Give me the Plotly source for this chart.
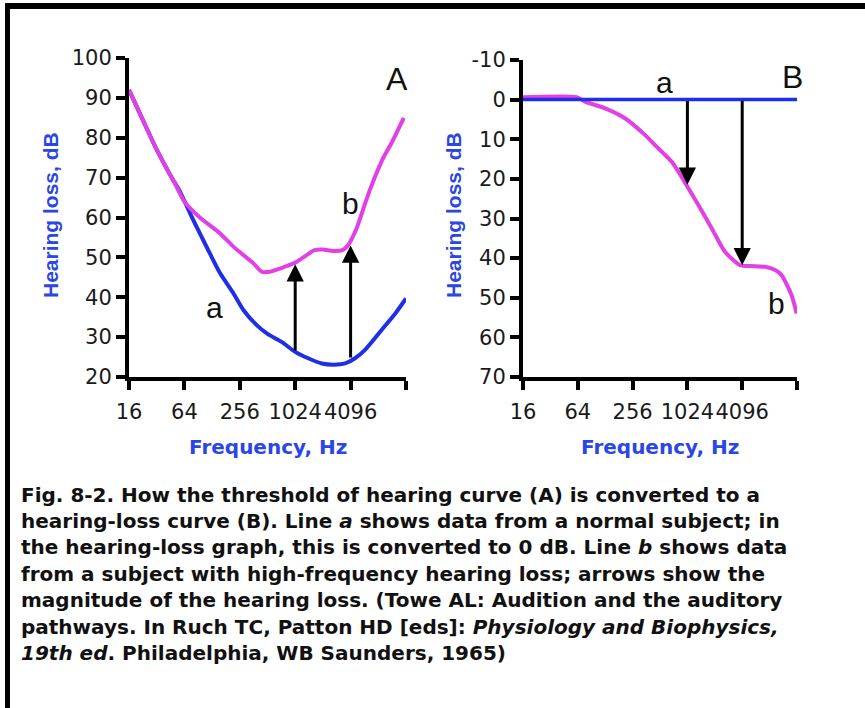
import math
import plotly.graph_objects as go

# ---------------- data ----------------
# Panel A: threshold of hearing (dB) vs frequency (Hz)
a_left_freq = [16, 22.6, 32, 45.3, 57.3, 76.7, 94.3, 121, 156.5, 218, 280, 391, 512, 729,
               1024, 1418, 1992, 2702, 3565, 4577, 5872, 8900, 12417, 16384]
a_left_db = [92, 84.5, 77, 70.5, 66.5, 60.2, 56, 51, 46, 41, 36.8, 33, 30.8, 28.8,
             26.3, 24.7, 23.4, 23.1, 23.4, 24.7, 26.8, 31.8, 35.8, 39.7]

b_left_freq = [16, 22.6, 32, 45.3, 50.6, 64, 94.3, 156.5, 218, 359.6, 442.6, 544.9, 699,
               1024, 1351, 1663, 2048, 2628, 3327, 3822, 4705, 5595, 6654, 9032, 11585, 15500]
b_left_db = [92, 84.5, 77, 70.5, 68.5, 64, 60, 56, 52.7, 48.5, 46.4, 46.4, 47.2,
             48.7, 50.5, 51.8, 52, 51.6, 51.8, 53, 57, 62, 67, 74.4, 79, 85]

# Panel B: hearing loss (dB) vs frequency (Hz)
a_right_freq = [16, 16384]
a_right_db = [0, 0]

b_right_freq = [16, 62.3, 76.7, 128, 210.8, 349.6, 451.8, 689.6, 1003, 1351, 1898, 2647,
                3875, 5042, 7279, 9410, 11110, 14263, 16271]
b_right_db = [-0.6, -0.6, 0.5, 2.2, 4.7, 8.9, 11.5, 15.7, 21.6, 26.6, 32.5, 38.4,
              41.8, 42, 42.2, 43, 44.3, 49.3, 54]

# Arrows: frequency, start dB, end dB
arrow_freq = [1024, 4096]
arrow_left_start = [26.3, 24.5]
arrow_left_end = [48.3, 53.0]
arrow_right_start = [0, 0]
arrow_right_end = [21.5, 41.8]

x_tickvals = [16, 64, 256, 1024, 4096, 16384]
x_ticktext = ["16", "64", "256", "1024", "4096", ""]
y_left_ticks = [20, 30, 40, 50, 60, 70, 80, 90, 100]
y_right_ticks = [-10, 0, 10, 20, 30, 40, 50, 60, 70]
y_right_text = ["-10", "0", "10", "20", "30", "40", "50", "60", "70"]

caption_lines = [
    "Fig. 8-2. How the threshold of hearing curve (A) is converted to a",
    "hearing-loss curve (B). Line <i>a</i> shows data from a normal subject; in",
    "the hearing-loss graph, this is converted to 0 dB. Line <i>b</i> shows data",
    "from a subject with high-frequency hearing loss; arrows show the",
    "magnitude of the hearing loss. (Towe AL: Audition and the auditory",
    "pathways. In Ruch TC, Patton HD [eds]: <i>Physiology and Biophysics,</i>",
    "<i>19th ed</i>. Philadelphia, WB Saunders, 1965)",
]

# ---------------- style ----------------
W, H = 865, 708
BLUE = "#1f2fe6"
MAGENTA = "#e33fe6"
BLUE_TEXT = "#2a46e4"
TICK_FONT = dict(family="DejaVu Sans", size=21, color="#1a1a1a")
TITLE_FONT = dict(family="Liberation Sans, Arial", size=21, color=BLUE_TEXT)
XTITLE_FONT = dict(family="DejaVu Sans", size=20, color=BLUE_TEXT)
LABEL_FONT = dict(family="Liberation Sans, Arial", size=30, color="#111111")
BIG_FONT = dict(family="Liberation Sans, Arial", size=32, color="#111111")


def px(x):
    return x / W


def py(y):
    return 1 - y / H


fig = go.Figure()

# Panel A
fig.add_trace(go.Scatter(x=a_left_freq, y=a_left_db, mode="lines", xaxis="x", yaxis="y",
                         line=dict(color=BLUE, width=4, shape="spline", smoothing=0.6),
                         hoverinfo="skip"))
fig.add_trace(go.Scatter(x=b_left_freq, y=b_left_db, mode="lines", xaxis="x", yaxis="y",
                         line=dict(color=MAGENTA, width=4, shape="spline", smoothing=0.6),
                         hoverinfo="skip"))
# Panel B
fig.add_trace(go.Scatter(x=b_right_freq, y=b_right_db, mode="lines", xaxis="x2", yaxis="y2",
                         line=dict(color=MAGENTA, width=4, shape="spline", smoothing=0.6),
                         hoverinfo="skip"))
fig.add_trace(go.Scatter(x=a_right_freq, y=a_right_db, mode="lines", xaxis="x2", yaxis="y2",
                         line=dict(color=BLUE, width=3.5), hoverinfo="skip"))

axis_common = dict(showline=True, linecolor="black", linewidth=4, ticks="outside",
                   ticklen=9, tickwidth=4, tickcolor="black", showgrid=False,
                   zeroline=False, tickfont=TICK_FONT, fixedrange=True, automargin=False,
                   tickangle=0)

lo, hi = math.log10(x_tickvals[0]), math.log10(x_tickvals[-1])

fig.update_layout(
    width=W, height=H,
    autosize=False,
    margin=dict(l=0, r=0, t=0, b=0, pad=0, autoexpand=False),
    paper_bgcolor="white", plot_bgcolor="white",
    showlegend=False,
    xaxis=dict(type="log", range=[lo, hi], domain=[px(129), px(406)], anchor="y",
               tickvals=x_tickvals, ticktext=x_ticktext, ticklabelstandoff=4, **axis_common),
    yaxis=dict(range=[20, 100], domain=[py(377), py(58)], anchor="x",
               tickvals=y_left_ticks, **axis_common),
    xaxis2=dict(type="log", range=[lo, hi], domain=[px(523), px(797)], anchor="y2",
                tickvals=x_tickvals, ticktext=x_ticktext, ticklabelstandoff=4, **axis_common),
    yaxis2=dict(range=[70, -10], domain=[py(377), py(60)], anchor="x2",
                tickvals=y_right_ticks, ticktext=y_right_text, **axis_common),
)

ann = []
# arrows
for f, s, e in zip(arrow_freq, arrow_left_start, arrow_left_end):
    ann.append(dict(x=math.log10(f), y=e, ax=math.log10(f), ay=s, xref="x", yref="y",
                    axref="x", ayref="y", showarrow=True, arrowhead=2, arrowsize=1.15,
                    arrowwidth=3, arrowcolor="black", text=""))
for f, s, e in zip(arrow_freq, arrow_right_start, arrow_right_end):
    ann.append(dict(x=math.log10(f), y=e, ax=math.log10(f), ay=s, xref="x2", yref="y2",
                    axref="x2", ayref="y2", showarrow=True, arrowhead=2, arrowsize=1.15,
                    arrowwidth=3, arrowcolor="black", text=""))

# curve / panel labels
ann += [
    dict(x=math.log10(13100), y=94.7, xref="x", yref="y", text="A", showarrow=False, font=BIG_FONT),
    dict(x=math.log10(137), y=37.5, xref="x", yref="y", text="a", showarrow=False, font=LABEL_FONT),
    dict(x=math.log10(4050), y=63.6, xref="x", yref="y", text="b", showarrow=False, font=LABEL_FONT),
    dict(x=math.log10(14800), y=-5.7, xref="x2", yref="y2", text="B", showarrow=False, font=BIG_FONT),
    dict(x=math.log10(580), y=-4.4, xref="x2", yref="y2", text="a", showarrow=False, font=LABEL_FONT),
    dict(x=math.log10(9850), y=51.4, xref="x2", yref="y2", text="b", showarrow=False, font=LABEL_FONT),
]

# axis titles
for cx in (267.5, 660):
    ann.append(dict(x=px(cx), y=py(447), xref="paper", yref="paper", text="<b>Frequency, Hz</b>",
                    showarrow=False, font=XTITLE_FONT, xanchor="center", yanchor="middle"))
for cx in (50, 453):
    ann.append(dict(x=px(cx), y=py(215), xref="paper", yref="paper", text="<b>Hearing loss, dB</b>",
                    showarrow=False, font=TITLE_FONT, textangle=-90,
                    xanchor="center", yanchor="middle"))

# caption
for i, line in enumerate(caption_lines):
    ann.append(dict(x=px(19), y=py(494.5 + 26.4 * i), xref="paper", yref="paper",
                    text="<b>" + line + "</b>", showarrow=False, xanchor="left", yanchor="middle",
                    font=dict(family="DejaVu Sans", size=20, color="#111111")))

fig.update_layout(annotations=ann)

# frame bars (top and left)
fig.add_shape(type="rect", xref="paper", yref="paper", x0=px(5), x1=1, y0=py(9), y1=py(3),
              fillcolor="black", line=dict(width=0), layer="above")
fig.add_shape(type="rect", xref="paper", yref="paper", x0=px(5), x1=px(10), y0=0, y1=py(3),
              fillcolor="black", line=dict(width=0), layer="above")

fig.write_html("out.html")
